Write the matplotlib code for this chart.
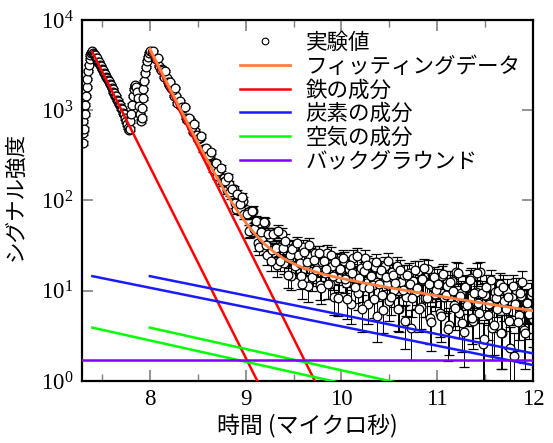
import matplotlib
matplotlib.use("Agg")
import matplotlib.pyplot as plt
from matplotlib.ticker import MultipleLocator, LogLocator, NullLocator
import numpy as np

plt.rcParams['font.family'] = ['Liberation Serif', 'Noto Sans CJK JP']
plt.rcParams['mathtext.fontset'] = 'custom'
plt.rcParams['mathtext.rm'] = 'Liberation Serif'
plt.rcParams['mathtext.it'] = 'Liberation Serif:italic'
JP = ['Noto Sans CJK JP', 'DejaVu Sans']

# 実験値: 立ち上がり〜二つ目のピークまで (時間 µs, 強度)
early_t = [7.300, 7.300, 7.302, 7.304, 7.306, 7.312, 7.318, 7.325, 7.332, 7.340,
           7.348, 7.356, 7.364, 7.372, 7.380, 7.388, 7.396,
           7.40, 7.41, 7.42, 7.43, 7.44, 7.45, 7.46, 7.47, 7.48, 7.49,
           7.50, 7.51, 7.52, 7.53, 7.54, 7.55, 7.56, 7.57, 7.58, 7.59,
           7.60, 7.61, 7.62, 7.63, 7.64, 7.65, 7.66, 7.67, 7.68, 7.69,
           7.70, 7.71, 7.72, 7.73, 7.74, 7.75, 7.76, 7.77, 7.78,
           7.79, 7.795, 7.80, 7.81, 7.82, 7.83, 7.84, 7.85, 7.86, 7.87,
           7.88, 7.89, 7.90, 7.91, 7.915, 7.92, 7.925, 7.93, 7.94, 7.95,
           7.96, 7.97, 7.98, 7.99, 8.00]
early_y = [1300, 1000, 750, 560, 430, 620, 900, 1150, 1450, 1800,
           2200, 2700, 3200, 3700, 4100, 4350, 4450,
           4500, 4350, 4150, 4100, 3800, 3750, 3450, 3400, 3150, 3100,
           2850, 2800, 2600, 2550, 2350, 2300, 2150, 2100, 1950, 1900,
           1750, 1720, 1580, 1560, 1430, 1420, 1300, 1280, 1170, 1150,
           1050, 1020, 940, 900, 820, 760, 700, 640, 600,
           620, 750, 900, 1150, 1450, 1700, 1850, 1900, 1800, 1600,
           1350, 1100, 900, 760, 820, 1050, 1350, 1700, 2100, 2600,
           3000, 3500, 3900, 4300, 4500]

# 実験値: 8.025 µs 以降 (0.025 µs 刻み)
late_t = np.round(np.linspace(8.025, 12.0, 160), 4)
late_y = [4440, 3740, 3650, 3090, 2870, 2310, 2300, 1900, 1770, 1430,
          1450, 1180, 1100, 1050, 830, 805, 750, 580, 590, 483,
          490, 368, 375, 320, 312, 246, 260, 188, 210, 168,
          178, 130, 151, 117, 133, 80, 100, 78, 99, 71,
          74, 46.5, 77, 50.5, 33.7, 55.8, 38.4, 55.6, 24.9, 39.8,
          28, 42.6, 19.1, 30.6, 42.3, 20.3, 30.7, 23.3, 14.4, 30.8,
          19.4, 24.6, 14.7, 30.4, 19.3, 11.2, 24.5, 15.7, 25.9, 19.1,
          11.7, 20.7, 15.9, 26.1, 11.8, 18.9, 8.6, 21.2, 13.9, 17.1,
          21.6, 12.1, 17.2, 7.2, 23.2, 14.0, 9.5, 18.0, 11.1, 23.0,
          7.2, 14.8, 11.7, 18.5, 5.2, 15.3, 9.0, 18.8, 12.0, 7.6,
          16.1, 10.1, 18.9, 6.2, 12.4, 14.8, 8.5, 15.9, 3.9, 12.7,
          9.7, 16.7, 6.6, 13.1, 8.3, 17.4, 5.0, 11.2, 9.3, 13.2,
          5.7, 14.6, 8.5, 11.4, 4.2, 12.8, 7.0, 16.2, 5.6, 9.5,
          3.5, 11.3, 7.0, 13.8, 4.6, 9.8, 7.4, 16.2, 2.6, 9.0,
          5.4, 11.3, 3.9, 9.7, 6.2, 12.0, 3.4, 7.7, 10.0, 4.6,
          8.5, 1.9, 10.2, 5.4, 8.8, 3.7, 7.4, 6.1, 9.0, 4.8]

# 実験値 (半刻みずれたもう一組)
late2_t = np.round(np.linspace(8.0375, 11.9875, 159), 4)
late2_y = [4580, 3700, 3740, 2770, 2820, 2725, 2030, 2050, 1670, 1750,
           1190, 1270, 1080, 1090, 780, 825, 647, 706, 535, 498,
           518, 363, 384, 317, 344, 223, 257, 213, 231, 160,
           163, 181, 124, 135, 93, 119, 92, 110, 71,
           71.5, 45.9, 75.5, 48.1, 59.2, 30.7, 45, 57.5, 31.9, 42.4,
           21.5, 42.3, 29.9, 46.3, 21.6, 29.9, 35.5, 15.1, 25, 29.3,
           18.6, 33.4, 20.5, 11.8, 26.6, 20.9, 32.3, 14.2, 22, 16.8,
           25.9, 10.8, 21.3, 17.3, 11.8, 24.8, 14.4, 20.6, 8.4, 17.3,
           23.1, 13.5, 8.0, 19.1, 15.6, 10.9, 24.0, 13.8, 6.2, 16.5,
           19.2, 10.7, 14.7, 8.1, 20.7, 11.9, 16.9, 6.1, 14.3, 21.2,
           8.6, 14.9, 12.1, 6.3, 17.1, 10.3, 4.6, 15.0, 11.9, 8.3,
           17.0, 10.6, 6.2, 13.6, 17.7, 8.3, 11.8, 4.5, 14.2, 10.1,
           11.8, 5.2, 15.4, 8.9, 3.8, 12.5, 9.9, 6.5, 15.7, 8.8,
           4.4, 11.0, 7.0, 13.1, 5.0, 9.5, 15.7, 5.6, 9.5, 2.9,
           11.1, 7.1, 13.1, 4.2, 8.3, 9.9, 3.4, 11.1, 6.3, 8.6,
           2.3, 11.3, 7.1, 4.5, 9.5, 12.5, 3.4, 7.3, 5.5, 9.6]

ERR_SCALE = 1.1  # 誤差棒 ~ sqrt(強度)

# フィッティングデータ
fit_t = [8.0, 8.1, 8.2, 8.3, 8.4, 8.5, 8.6, 8.7, 8.8, 8.9, 9.0, 9.1, 9.2,
         9.3, 9.4, 9.5, 9.6, 9.8, 10.0, 10.25, 10.5, 10.75, 11.0, 11.25,
         11.5, 11.75, 12.0]
fit_y = [4770, 2939, 1814, 1123, 700, 439, 279, 179.5, 118.5, 80.5, 57.0,
         42.1, 32.7, 26.6, 22.6, 19.9, 17.9, 15.3, 13.7, 12.1, 10.8, 9.75,
         8.78, 7.95, 7.22, 6.57, 5.98]

# 各成分 (対数軸上の直線: 始点と終点)
fe_lines = [([7.40, 9.30], [4400, 0.42]), ([8.00, 9.90], [4500, 0.42])]
c_lines = [([7.40, 12.0], [14.5, 1.50]), ([8.00, 12.0], [14.5, 2.02])]
air_lines = [([7.40, 10.2], [3.9, 0.85]), ([8.00, 10.8], [3.9, 0.85])]
bg_t = [7.29, 12.0]
bg_y = [1.7, 1.7]

ORANGE = '#ff7f40'
RED = '#ff0000'
BLUE = '#1a1aff'
GREEN = '#00ff00'
PURPLE = '#8000ff'

fig = plt.figure(figsize=(5.53, 4.43), dpi=100)
ax = fig.add_axes([0.148, 0.140, 0.816, 0.815])

t_all = np.concatenate([early_t, late_t, late2_t])
y_all = np.concatenate([early_y, late_y, late2_y])
yerr = ERR_SCALE * np.sqrt(y_all)

ax.errorbar(t_all, y_all, yerr=yerr, fmt='o', ms=6.3, mfc='white', mec='black',
            mew=0.9, ecolor='black', elinewidth=0.7, capsize=3.6, capthick=0.7,
            zorder=2)

for t, y in fe_lines:
    ax.plot(t, y, color=RED, lw=1.8, zorder=3)
for t, y in c_lines:
    ax.plot(t, y, color=BLUE, lw=1.8, zorder=3)
for t, y in air_lines:
    ax.plot(t, y, color=GREEN, lw=1.8, zorder=3)
ax.plot(bg_t, bg_y, color=PURPLE, lw=1.8, zorder=3)
ax.plot(fit_t, fit_y, color=ORANGE, lw=2.0, zorder=4)

ax.set_yscale('log')
ax.set_xlim(7.29, 12.0)
ax.set_ylim(1, 1e4)
ax.xaxis.set_major_locator(MultipleLocator(1))
ax.xaxis.set_minor_locator(MultipleLocator(0.5))
ax.yaxis.set_major_locator(LogLocator(base=10, numticks=10))
ax.yaxis.set_minor_locator(NullLocator())
ax.tick_params(which='both', direction='in', top=True, right=True,
               color='#808080', labelsize=16.5, pad=6)
ax.tick_params(which='major', length=8, width=1.2)
ax.tick_params(which='minor', length=5, width=1.0)
for s in ax.spines.values():
    s.set_linewidth(1.6)

ax.set_xlabel('時間 (マイクロ秒)', family=JP, fontsize=16.5, labelpad=2)
ax.set_ylabel('シグナル強度', family=JP, fontsize=15.5)
ax.yaxis.set_label_coords(-0.122, 0.51)

handles = [
    plt.Line2D([], [], ls='none', marker='o', ms=4.8, mfc='white', mec='black', mew=0.8),
    plt.Line2D([], [], color=ORANGE, lw=2.0),
    plt.Line2D([], [], color=RED, lw=1.8),
    plt.Line2D([], [], color=BLUE, lw=1.8),
    plt.Line2D([], [], color=GREEN, lw=1.8),
    plt.Line2D([], [], color=PURPLE, lw=1.8),
]
labels = ['実験値', 'フィッティングデータ', '鉄の成分', '炭素の成分', '空気の成分', 'バックグラウンド']
ax.legend(handles, labels, loc='upper left', bbox_to_anchor=(0.35, 0.967),
          frameon=False, prop={'family': JP, 'size': 15.5}, handlelength=2.35,
          handletextpad=0.7, labelspacing=0.08, borderpad=0, borderaxespad=0)

fig.savefig('out.png', dpi=100)
